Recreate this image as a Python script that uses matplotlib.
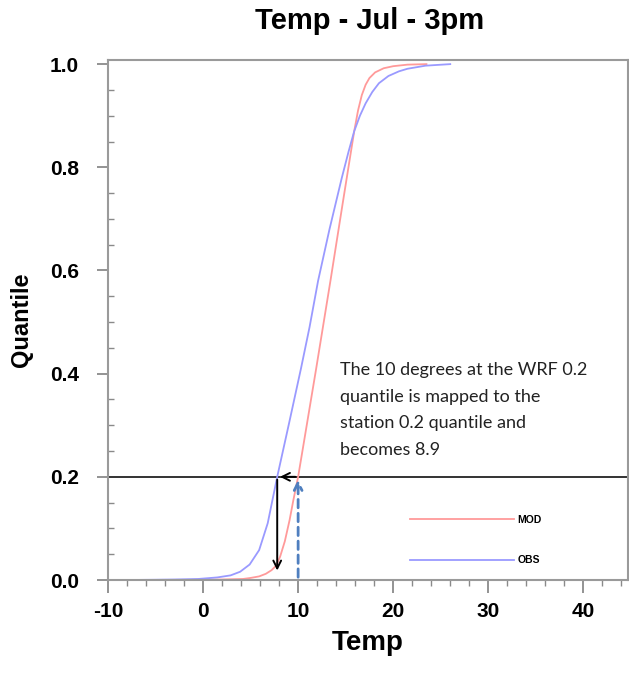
import numpy as np
import matplotlib.pyplot as plt
from matplotlib.ticker import MultipleLocator

plt.rcParams['axes.unicode_minus'] = False

# --- Data ---
obs_temp = [-7.7, -5.0, -3.0, -0.5, 1.5, 2.9, 3.9, 4.9, 5.9, 6.8, 7.8, 9.0, 10.3, 11.2,
            12.1, 13.3, 14.6, 15.3, 15.9, 16.5, 17.1, 17.8, 18.5, 19.5, 20.6, 21.5,
            23.4, 26.0]
obs_q = [0.0, 0.0005, 0.001, 0.002, 0.005, 0.009, 0.016, 0.03, 0.058, 0.11, 0.20, 0.30,
         0.41, 0.49, 0.58, 0.68, 0.78, 0.83, 0.87, 0.90, 0.924, 0.946, 0.963, 0.977,
         0.986, 0.991, 0.997, 1.0]

mod_temp = [-7.7, -2.0, 2.0, 4.2, 5.0, 5.9, 6.6, 7.2, 7.7, 8.1, 8.6, 9.1, 9.5, 10.0, 11.9,
            13.4, 14.6, 15.9, 16.3, 16.7, 17.1, 17.5, 18.1, 19.0, 20.0, 21.5, 23.5]
mod_q = [0.0, 0.0, 0.001, 0.002, 0.004, 0.007, 0.012, 0.019, 0.028, 0.045, 0.075, 0.116,
         0.155, 0.20, 0.41, 0.58, 0.72, 0.87, 0.91, 0.94, 0.96, 0.973, 0.984, 0.992,
         0.996, 0.999, 1.0]

q_level = 0.2     # quantile used for the mapping
wrf_temp = 10.0   # model value at that quantile
obs_temp_at_q = 7.8
arrow_end_q = 0.013

note_lines = ["The 10 degrees at the WRF 0.2",
              "quantile is mapped to the",
              "station 0.2 quantile and",
              "becomes 8.9"]
note_q = [0.397, 0.346, 0.294, 0.242]

# --- Figure ---
fig = plt.figure(figsize=(6.29, 6.80), dpi=100)
ax = fig.add_axes([108 / 629, 100 / 680, 520 / 629, 520 / 680])

ax.plot(mod_temp, mod_q, color='#ff9a9a', lw=1.3, label='MOD')
ax.plot(obs_temp, obs_q, color='#9a9aff', lw=1.3, label='OBS')

# horizontal quantile line
ax.axhline(q_level, color='#333333', lw=1.4, zorder=1)

# dashed arrow up from WRF value
ax.annotate('', xy=(wrf_temp, q_level), xytext=(wrf_temp, 0.0),
            arrowprops=dict(arrowstyle='->', color='#4f7fbf', lw=2.0,
                            linestyle=(0, (3, 2)), mutation_scale=14))
# arrow left along the quantile line
ax.annotate('', xy=(obs_temp_at_q, q_level), xytext=(wrf_temp, q_level),
            arrowprops=dict(arrowstyle='->', color='black', lw=1.4, mutation_scale=14))
# arrow down to the station value
ax.annotate('', xy=(obs_temp_at_q, arrow_end_q), xytext=(obs_temp_at_q, q_level),
            arrowprops=dict(arrowstyle='->', color='black', lw=1.4, mutation_scale=14))

for line, q in zip(note_lines, note_q):
    ax.text(14.4, q, line, fontsize=13, family='Lato', color='#222222',
            va='baseline', ha='left')

ax.set_xlim(-10, 44.7)
ax.set_ylim(0, 1.008)

ax.xaxis.set_major_locator(MultipleLocator(10))
ax.xaxis.set_minor_locator(MultipleLocator(2))
ax.yaxis.set_major_locator(MultipleLocator(0.2))
ax.yaxis.set_minor_locator(MultipleLocator(0.05))
ax.yaxis.set_major_formatter(plt.FormatStrFormatter('%.1f'))

tick_col = '#8a8a8a'
for s in ax.spines.values():
    s.set_color('#9a9a9a')
    s.set_linewidth(1.5)

ax.tick_params(axis='x', which='major', direction='out', length=9, width=1.3,
               color=tick_col, pad=7)
ax.tick_params(axis='x', which='minor', direction='out', length=4, width=1.0,
               color=tick_col)
ax.tick_params(axis='y', which='major', direction='out', length=8, width=1.3,
               color=tick_col, pad=13)
ax.tick_params(axis='y', which='minor', direction='in', length=4, width=1.0,
               color=tick_col)

for lab in ax.get_xticklabels() + ax.get_yticklabels():
    lab.set_family('Liberation Sans')
    lab.set_fontweight('bold')
    lab.set_fontsize(15)

ax.set_xlabel('Temp', family='Liberation Sans', fontweight='bold', fontsize=20, labelpad=6)
ax.set_ylabel('Quantile', family='Liberation Sans', fontweight='bold', fontsize=17)
ax.yaxis.set_label_coords(-(108 - 33) / 520, 0.5)
fig.suptitle('Temp - Jul - 3pm', x=370 / 629, y=1 - 21 / 680, va='center',
             family='Liberation Sans', fontweight='bold', fontsize=21)

leg = ax.legend(loc='upper left', bbox_to_anchor=(0.581, 0.125), frameon=False,
                borderpad=0, borderaxespad=0, handlelength=10, handletextpad=0.3,
                labelspacing=2.9, prop=dict(family='Liberation Sans', weight='bold', size=7.5))

plt.savefig('out.png', dpi=100)
